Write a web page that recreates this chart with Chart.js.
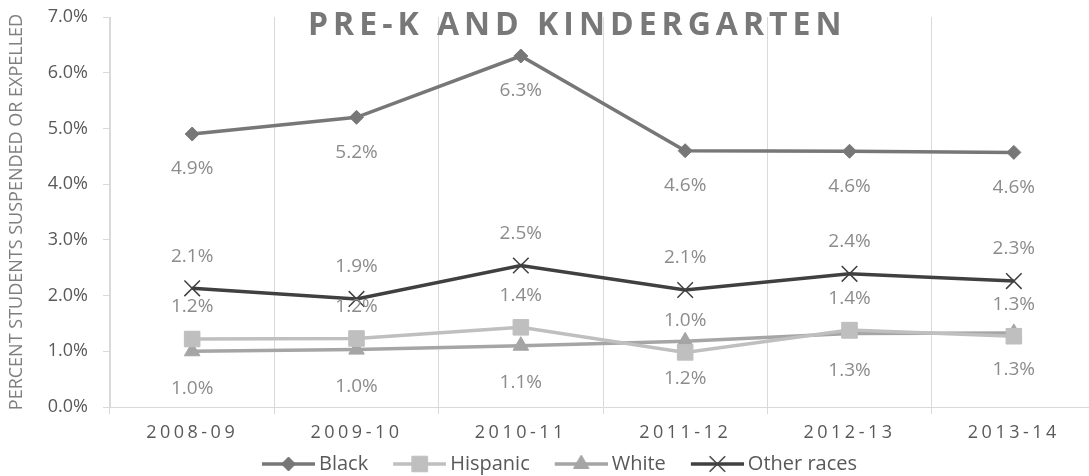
<!DOCTYPE html>
<html>
<head>
<meta charset="utf-8">
<script src="https://cdn.jsdelivr.net/npm/chart.js@4.4.0/dist/chart.umd.min.js"></script>
<style>
    html, body { margin: 0; padding: 0; background: #fff; overflow: hidden; }
    #wrap { position: relative; width: 1096px; height: 476px; }
    #title {
        position: absolute; left: 308px; top: 7px;
        font: bold 32px "Open Sans", sans-serif; line-height: 32px;
        letter-spacing: 5px; color: #787878; white-space: nowrap;
    }
</style>
</head>
<body>
<div id="wrap">
    <canvas id="chart" width="1096" height="476"></canvas>
    <div id="title">PRE-K AND KINDERGARTEN</div>
</div>
<script>
const years = ['2008-09', '2009-10', '2010-11', '2011-12', '2012-13', '2013-14'];
const black = [4.9, 5.2, 6.3, 4.6, 4.59, 4.57];
const hispanic = [1.22, 1.23, 1.43, 0.98, 1.38, 1.27];
const white = [1.0, 1.03, 1.1, 1.18, 1.32, 1.33];
const otherRaces = [2.13, 1.94, 2.54, 2.1, 2.39, 2.26];
const yMin = 0, yMax = 7, yStep = 1;

const PLOT_BOTTOM = 407;
const LEGEND_Y = 464;
const LEGEND_PAD = 2;
const LEGEND_FONT = 20;

Chart.defaults.font.family = '"Open Sans", sans-serif';

// legend icon: short line with the marker in the middle, blank space on the left
function legendIcon(color, style, radius, borderWidth) {
    const c = document.createElement('canvas');
    c.width = 82;
    c.height = 24;
    const ctx = c.getContext('2d');
    ctx.strokeStyle = color;
    ctx.lineWidth = 3.5;
    ctx.beginPath();
    ctx.moveTo(29, 12);
    ctx.lineTo(82, 12);
    ctx.stroke();
    ctx.fillStyle = color;
    ctx.lineWidth = borderWidth;
    Chart.helpers.drawPoint(ctx, {pointStyle: style, radius: radius, rotation: 0, borderWidth: borderWidth}, 55.5, 12);
    return c;
}

function series(label, data, color, style, radius, borderWidth, labelOffset) {
    return {
        label: label,
        data: data,
        borderColor: color,
        backgroundColor: color,
        borderWidth: 3.5,
        pointStyle: style,
        pointRadius: radius,
        pointHoverRadius: radius,
        pointBorderWidth: borderWidth,
        pointBorderColor: color,
        pointBackgroundColor: color,
        tension: 0,
        labelOffset: labelOffset,
        icon: legendIcon(color, style, radius, borderWidth)
    };
}

const dataLabels = {
    id: 'dataLabels',
    afterDatasetsDraw(chart) {
        const ctx = chart.ctx;
        ctx.save();
        ctx.font = '19px "Open Sans"';
        ctx.fillStyle = '#8c8c8c';
        ctx.textAlign = 'center';
        ctx.textBaseline = 'middle';
        chart.data.datasets.forEach((ds, i) => {
            chart.getDatasetMeta(i).data.forEach((pt, j) => {
                ctx.fillText(ds.data[j].toFixed(1) + '%', pt.x, pt.y + ds.labelOffset);
            });
        });
        ctx.restore();
        // x tick labels are drawn after this (ticks.z = 1) and are letter spaced
        ctx.letterSpacing = '3.5px';
    },
    afterDraw(chart) {
        chart.ctx.letterSpacing = '0px';
    }
};

const legendShift = {
    id: 'legendShift',
    afterLayout(chart) {
        const lg = chart.legend;
        lg.top = LEGEND_Y - LEGEND_PAD - LEGEND_FONT / 2;
        lg.bottom = lg.top + lg.height;
    }
};

const chart = new Chart(document.getElementById('chart'), {
    type: 'line',
    data: {
        labels: years,
        datasets: [
            series('Black', black, '#777777', 'rectRot', 7, 1, 35),
            series('Hispanic', hispanic, '#bfbfbf', 'rect', 11, 1, -32),
            series('White', white, '#a5a5a5', 'triangle', 9, 1, 37),
            series('Other races', otherRaces, '#404040', 'crossRot', 11, 1.5, -32)
        ]
    },
    options: {
        responsive: false,
        animation: false,
        layout: {autoPadding: false, padding: {top: 17, left: 0, right: 0, bottom: 0}},
        plugins: {
            tooltip: {enabled: false},
            legend: {
                position: 'bottom',
                labels: {
                    usePointStyle: true,
                    pointStyleWidth: 70,
                    padding: LEGEND_PAD,
                    color: '#595959',
                    font: {size: LEGEND_FONT},
                    generateLabels(chart) {
                        return chart.data.datasets.map((ds, i) => ({
                            text: ds.label,
                            pointStyle: ds.icon,
                            fillStyle: ds.borderColor,
                            strokeStyle: ds.borderColor,
                            lineWidth: 0,
                            fontColor: '#595959',
                            hidden: false,
                            datasetIndex: i
                        }));
                    }
                }
            }
        },
        scales: {
            x: {
                offset: true,
                grid: {offset: true, color: '#d9d9d9', lineWidth: 1, tickLength: 7},
                border: {color: '#d9d9d9'},
                ticks: {color: '#595959', font: {size: 18}, padding: 8, maxRotation: 0, z: 1},
                afterFit(scale) {
                    scale.height = 476 - PLOT_BOTTOM - scale.chart.legend.height;
                    scale.paddingLeft = 0;
                    scale.paddingRight = 0;
                }
            },
            y: {
                min: yMin,
                max: yMax,
                grid: {drawOnChartArea: false, color: '#d9d9d9', tickLength: 7},
                border: {color: '#d9d9d9'},
                ticks: {
                    stepSize: yStep,
                    color: '#595959',
                    font: {size: 18},
                    padding: 15,
                    callback: v => v.toFixed(1) + '%'
                },
                title: {
                    display: true,
                    text: 'PERCENT STUDENTS SUSPENDED OR EXPELLED',
                    color: '#7f7f7f',
                    font: {size: 18},
                    padding: {top: 6, bottom: 0}
                },
                afterFit(scale) {
                    scale.width = 110;
                    scale.paddingTop = 0;
                    scale.paddingBottom = 0;
                }
            }
        }
    },
    plugins: [dataLabels, legendShift]
});
</script>
</body>
</html>
